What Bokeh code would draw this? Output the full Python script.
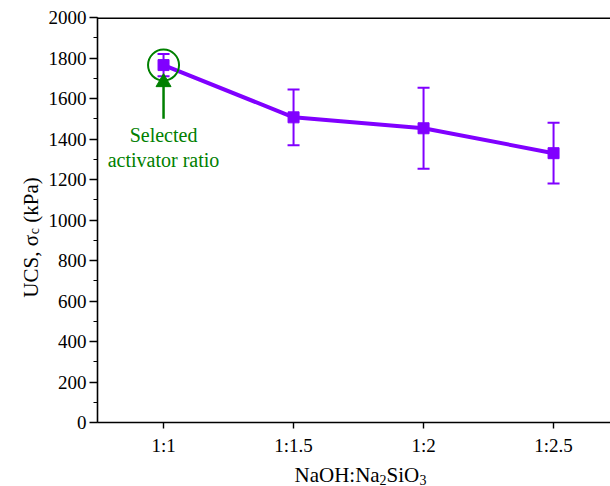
import math

from bokeh.core.properties import value
from bokeh.embed import file_html
from bokeh.layouts import column, row
from bokeh.models import ColumnDataSource, FixedTicker, Range1d, SingleIntervalTicker
from bokeh.plotting import figure
from bokeh.resources import INLINE

# Unconfined compressive strength for each activator ratio
ratios = ["1:1", "1:1.5", "1:2", "1:2.5"]
ucs = [1765, 1507, 1453, 1330]
ucs_err = [55, 138, 200, 150]

# Highlighted ratio and its callout
selected_index = 0
callout_lines = ["Selected", "activator ratio"]
callout_y = [1419, 1296]
arrow_tail = 1500
arrow_head = ucs[selected_index] - 85

SERIF = "Liberation Serif"
PURPLE = "#8000FF"
GREEN = "#008000"

W, H = 610, 486
LEFT_W, BOTTOM_H = 45, 28
MAIN_W, MAIN_H = W - LEFT_W, H - BOTTOM_H

xs = list(range(len(ratios)))
src = ColumnDataSource(dict(
    x=xs, y=ucs,
    upper=[v + e for v, e in zip(ucs, ucs_err)],
    lower=[v - e for v, e in zip(ucs, ucs_err)],
))

x_range = Range1d(-0.508, 3.438)
y_range = Range1d(0, 2000)
p = figure(width=MAIN_W, height=MAIN_H, output_backend="svg", toolbar_location=None,
           x_range=x_range, y_range=y_range,
           min_border_left=52, min_border_right=0, min_border_top=17, min_border_bottom=35)
p.outline_line_color = None
p.grid.visible = False

# x axis: one tick per ratio
xa = p.xaxis[0]
xa.ticker = FixedTicker(ticks=xs)
xa.major_label_overrides = {i: r for i, r in enumerate(ratios)}
xa.minor_tick_line_color = None
xa.major_tick_in = 0
xa.major_tick_out = 6
xa.major_label_standoff = 6

# y axis
ya = p.yaxis[0]
ya.ticker = SingleIntervalTicker(interval=200, num_minor_ticks=2)
ya.major_tick_in = 0
ya.major_tick_out = 8
ya.minor_tick_in = 0
ya.minor_tick_out = 4
ya.major_label_standoff = 3

for ax in (xa, ya):
    ax.axis_line_width = 1.6
    ax.major_tick_line_width = 1.4
    ax.minor_tick_line_width = 1.2
    ax.major_label_text_font = SERIF
    ax.major_label_text_font_size = "19px"
    ax.major_label_text_color = "black"

# frame line along the top edge of the plot area
p.segment(x0=[x_range.start], y0=[y_range.end], x1=[x_range.end], y1=[y_range.end],
          line_color="black", line_width=3.2)

# error bars: stems and caps
p.segment(x0="x", y0="lower", x1="x", y1="upper", source=src,
          line_color=PURPLE, line_width=2)
p.scatter("x", "upper", source=src, marker="dash", size=12,
          line_color=PURPLE, line_width=2)
p.scatter("x", "lower", source=src, marker="dash", size=12,
          line_color=PURPLE, line_width=2)

# connecting line and markers
p.line("x", "y", source=src, line_color=PURPLE, line_width=4)
p.scatter("x", "y", source=src, marker="square", size=11,
          fill_color=PURPLE, line_color=PURPLE)

# callout for the selected ratio: ring, arrow and caption
sx = xs[selected_index]
p.scatter([sx], [ucs[selected_index]], marker="circle", size=31,
          fill_color=None, line_color=GREEN, line_width=2)
p.segment(x0=[sx], y0=[arrow_tail], x1=[sx], y1=[arrow_head],
          line_color=GREEN, line_width=2.5)
p.scatter([sx], [arrow_head], marker="triangle", size=15,
          fill_color=GREEN, line_color=GREEN)
p.text(x=[sx] * len(callout_lines), y=callout_y, text=callout_lines,
       text_font=value(SERIF), text_font_size="20px", text_color=GREEN,
       text_align="center", text_baseline="middle")


def title_strip(width, height):
    """Bare figure whose data space is its own pixel grid, used for axis titles."""
    f = figure(width=width, height=height, output_backend="svg", toolbar_location=None,
               x_range=Range1d(0, width), y_range=Range1d(0, height),
               x_axis_location=None, y_axis_location=None,
               min_border=0, min_border_left=0, min_border_right=0,
               min_border_top=0, min_border_bottom=0)
    f.outline_line_color = None
    f.grid.visible = False
    return f


def put(f, txt, x, y, size, angle=0.0, align="left"):
    f.text(x=[x], y=[y], text=[txt], angle=angle, text_font=value(SERIF),
           text_font_size=f"{size}px", text_color="black",
           text_align=align, text_baseline="alphabetic")


# y title: UCS, sigma_c (kPa), reading upward
ytitle = title_strip(LEFT_W, MAIN_H)
up = math.pi / 2
put(ytitle, "UCS, σ", 30, 212, 21, up, align="right")
put(ytitle, "c", 34, 213, 14, up)
put(ytitle, "(kPa)", 30, 226, 21, up)

# x title: NaOH:Na2SiO3
xtitle = title_strip(W, BOTTOM_H)
put(xtitle, "NaOH:Na", 294, 12, 21)
put(xtitle, "2", 379, 7, 14)
put(xtitle, "SiO", 386, 12, 21)
put(xtitle, "3", 419, 7, 14)

layout = column(row(ytitle, p, spacing=0), xtitle, spacing=0)
open("out.html", "w").write(file_html(layout, INLINE))
